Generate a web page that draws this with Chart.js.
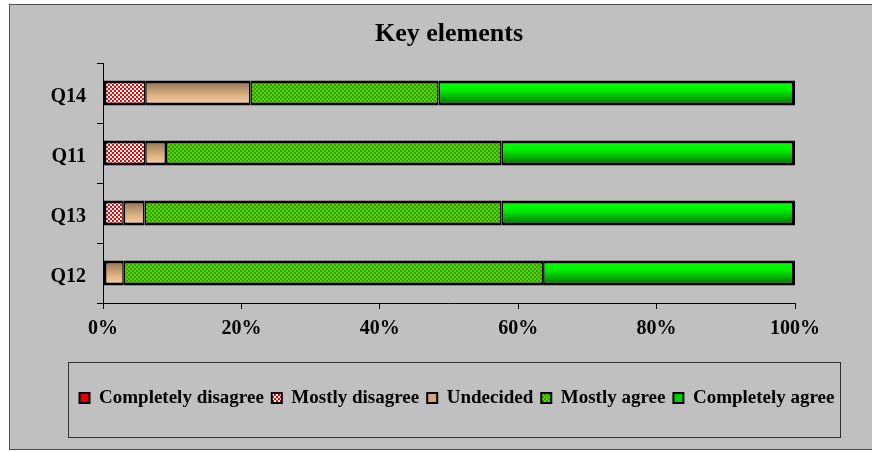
<!DOCTYPE html>
<html>
<head>
<meta charset="utf-8">
<script src="https://cdn.jsdelivr.net/npm/chart.js@4.4.1/dist/chart.umd.min.js"></script>
<style>
  html, body { margin: 0; padding: 0; background: #ffffff; }
  canvas { display: block; }
</style>
</head>
<body>
<canvas id="c" width="872" height="452"></canvas>
<script>
// Survey answers per question, in percent of respondents
const questions = ['Q14', 'Q11', 'Q13', 'Q12'];
const completelyDisagree = [0, 0, 0, 0];
const mostlyDisagree = [6.1, 6.1, 3.0, 0];
const undecided = [15.2, 3.0, 3.0, 3.0];
const mostlyAgree = [27.2, 48.5, 51.6, 60.6];
const completelyAgree = [51.5, 42.4, 42.4, 36.4];
const answerLabels = ['Completely disagree', 'Mostly disagree', 'Undecided', 'Mostly agree', 'Completely agree'];
const percentTicks = [0, 20, 40, 60, 80, 100];

const canvas = document.getElementById('c');
const ctx2d = canvas.getContext('2d');

// 2px checkerboard fill
function checker(a, b) {
  const t = document.createElement('canvas');
  t.width = 4; t.height = 4;
  const g = t.getContext('2d');
  g.fillStyle = a; g.fillRect(0, 0, 4, 4);
  g.fillStyle = b; g.fillRect(0, 0, 2, 2); g.fillRect(2, 2, 2, 2);
  return ctx2d.createPattern(t, 'repeat');
}
const redChecker = checker('#ffffff', '#ff0000');
const greenChecker = checker('#8a7400', '#00ff00');

const BAR_H = 25;

// vertical gradient across one bar
function barGradient(stops, fallback) {
  return (c) => {
    if (c.type !== 'data' || !c.chart.chartArea) return fallback;
    const y = c.chart.scales.y.getPixelForValue(c.dataIndex);
    const g = c.chart.ctx.createLinearGradient(0, y - BAR_H / 2, 0, y + BAR_H / 2);
    stops.forEach(([o, col]) => g.addColorStop(o, col));
    return g;
  };
}

// thick outline around each stack, single-width line between segments
function segmentBorder(c) {
  if (c.type !== 'data') return 2;
  const sets = c.chart.data.datasets;
  const i = c.dataIndex, d = c.datasetIndex;
  if (!sets[d].data[i]) return 0;
  let before = 0, after = 0;
  for (let k = 0; k < d; k++) before += sets[k].data[i];
  for (let k = d + 1; k < sets.length; k++) after += sets[k].data[i];
  return { top: 3, bottom: 3, left: before > 0 ? 1.5 : 3, right: after > 0 ? 1.5 : 3 };
}

const legendFills = ['#e00000', redChecker, '#d2a878', greenChecker, '#00d000'];

const barStyle = {
  borderColor: '#000000',
  borderWidth: segmentBorder,
  borderSkipped: false,
  inflateAmount: 0,
  categoryPercentage: 0.8,
  barPercentage: BAR_H / 48
};

const frame = {
  id: 'frame',
  beforeDraw(chart) {
    const ctx = chart.ctx;
    ctx.save();
    ctx.fillStyle = '#c0c0c0';
    ctx.fillRect(9.5, 4.5, 872, 445);
    ctx.strokeStyle = '#505050';
    ctx.lineWidth = 1;
    ctx.strokeRect(9.5, 4.5, 872, 445);
    const lg = chart.legend;
    if (lg && lg.legendHitBoxes && lg.legendHitBoxes.length) {
      const hb = lg.legendHitBoxes;
      const last = hb[hb.length - 1];
      const x0 = Math.round(hb[0].left - 12) + 0.5;
      const x1 = Math.round(last.left + last.width + 6) + 0.5;
      const y0 = Math.round(lg.top - 19) + 0.5;
      const y1 = Math.round(lg.bottom + 19) + 0.5;
      ctx.strokeStyle = '#303030';
      ctx.strokeRect(x0, y0, x1 - x0, y1 - y0);
    }
    ctx.restore();
  }
};

Chart.defaults.font.family = "'Liberation Serif', 'Times New Roman', serif";
Chart.defaults.font.weight = 'bold';
Chart.defaults.color = '#000000';

new Chart(canvas, {
  type: 'bar',
  data: {
    labels: questions,
    datasets: [
      Object.assign({ label: answerLabels[0], data: completelyDisagree,
        backgroundColor: barGradient([[0, '#ff0000'], [1, '#900000']], '#e00000') }, barStyle),
      Object.assign({ label: answerLabels[1], data: mostlyDisagree,
        backgroundColor: redChecker }, barStyle),
      Object.assign({ label: answerLabels[2], data: undecided,
        backgroundColor: barGradient([[0, '#8c6e50'], [0.55, '#d8ad80'], [1, '#ffd2a2']], '#d2a878') }, barStyle),
      Object.assign({ label: answerLabels[3], data: mostlyAgree,
        backgroundColor: greenChecker }, barStyle),
      Object.assign({ label: answerLabels[4], data: completelyAgree,
        backgroundColor: barGradient([[0, '#00ff00'], [0.35, '#00f400'], [1, '#006e00']], '#00d000') }, barStyle)
    ]
  },
  options: {
    indexAxis: 'y',
    responsive: false,
    animation: false,
    events: [],
    layout: { padding: { left: 42, right: 0, top: 0, bottom: 34.5 } },
    scales: {
      x: {
        type: 'linear',
        stacked: true,
        min: 0,
        max: 100,
        afterBuildTicks(s) { s.ticks = percentTicks.map(v => ({ value: v })); },
        grid: { drawOnChartArea: false, drawTicks: true, tickLength: 6, color: '#000000' },
        border: { display: true, color: '#000000', width: 1 },
        ticks: { callback: v => v + '%', padding: 8, font: { size: 20, weight: 'bold' }, color: '#000000', maxRotation: 0 },
        afterFit(s) { s.height = 77.5; }
      },
      y: {
        type: 'category',
        stacked: true,
        grid: { drawOnChartArea: false, drawTicks: true, tickLength: 6, color: '#000000', offset: true },
        border: { display: true, color: '#000000', width: 1 },
        ticks: { padding: 11, labelOffset: 4, font: { size: 20, weight: 'bold' }, color: '#000000' },
        afterFit(s) { s.width = 61; }
      },
      yRight: {
        type: 'linear',
        position: 'right',
        display: true,
        grid: { display: false, drawTicks: false },
        border: { display: false },
        ticks: { display: false },
        afterFit(s) { s.width = 77; }
      }
    },
    plugins: {
      title: {
        display: true,
        text: 'Key elements',
        fullSize: false,
        color: '#000000',
        font: { size: 26, weight: 'bold' },
        padding: { top: 18.4, bottom: 13.4 }
      },
      legend: {
        position: 'bottom',
        fullSize: true,
        labels: {
          color: '#000000',
          font: { size: 19, weight: 'bold' },
          boxWidth: 10,
          boxHeight: 10,
          padding: 8,
          generateLabels(chart) {
            return chart.data.datasets.map((ds, i) => ({
              text: ds.label,
              fillStyle: legendFills[i],
              strokeStyle: '#000000',
              lineWidth: 2,
              hidden: false,
              datasetIndex: i
            }));
          }
        }
      },
      tooltip: { enabled: false }
    }
  },
  plugins: [frame]
});
</script>
</body>
</html>
